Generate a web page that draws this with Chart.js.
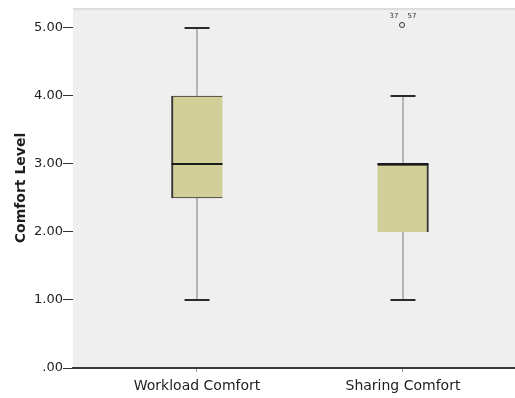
<!DOCTYPE html>
<html>
<head>
<meta charset="utf-8">
<script src="https://cdn.jsdelivr.net/npm/chart.js@4/dist/chart.umd.min.js"></script>
<style>
    html, body { margin: 0; padding: 0; background: #fff; }
    #wrap { width: 515px; height: 398px; position: relative; }
</style>
</head>
<body>
<div id="wrap"><canvas id="boxChart"></canvas></div>
<script>
    // box plot summaries per variable
    const categories = ['Workload Comfort', 'Sharing Comfort'];
    const categoryPos = [1, 2];
    const minVals = [1, 1];
    const q1Vals = [2.5, 2];
    const medianVals = [3, 3];
    const q3Vals = [4, 3];
    const maxVals = [5, 4];
    const outlierVals = [[], [5]];
    const outlierLabels = [[], ['37', '57']];
    const yTicks = [0, 1, 2, 3, 4, 5];

    const fontFamily = '"DejaVu Sans", Verdana, sans-serif';

    const plotBackground = {
        id: 'plotBackground',
        beforeDraw(chart) {
            const { ctx, chartArea: a } = chart;
            ctx.save();
            ctx.fillStyle = '#efefef';
            ctx.fillRect(a.left, a.top, a.right - a.left, a.bottom - a.top);
            ctx.fillStyle = '#dddddd';
            ctx.fillRect(a.left, a.top, a.right - a.left, 2);
            ctx.restore();
        }
    };

    // whiskers behind the boxes, caps/medians/outliers on top
    const boxParts = {
        id: 'boxParts',
        beforeDatasetsDraw(chart) {
            const { ctx, scales: { x, y } } = chart;
            ctx.save();
            ctx.strokeStyle = '#b4b4b4';
            ctx.lineWidth = 2;
            categoryPos.forEach((c, i) => {
                const px = Math.round(x.getPixelForValue(c));
                ctx.beginPath();
                ctx.moveTo(px, y.getPixelForValue(minVals[i]));
                ctx.lineTo(px, y.getPixelForValue(maxVals[i]));
                ctx.stroke();
            });
            ctx.restore();
        },
        afterDatasetsDraw(chart) {
            const { ctx, scales: { x, y } } = chart;
            ctx.save();
            categoryPos.forEach((c, i) => {
                const px = Math.round(x.getPixelForValue(c));
                ctx.strokeStyle = '#2a2a2a';
                ctx.lineWidth = 2;
                [minVals[i], maxVals[i]].forEach(v => {
                    const py = Math.round(y.getPixelForValue(v));
                    ctx.beginPath();
                    ctx.moveTo(px - 12.5, py);
                    ctx.lineTo(px + 12.5, py);
                    ctx.stroke();
                });
                const my = Math.round(y.getPixelForValue(medianVals[i]));
                ctx.strokeStyle = '#1a1a1a';
                ctx.beginPath();
                ctx.moveTo(px - 25.5, my);
                ctx.lineTo(px + 25.5, my);
                ctx.stroke();

                outlierVals[i].forEach(v => {
                    const oy = y.getPixelForValue(v) - 3;
                    ctx.lineWidth = 1;
                    ctx.strokeStyle = '#333';
                    ctx.beginPath();
                    ctx.arc(px - 1, oy, 2.5, 0, Math.PI * 2);
                    ctx.stroke();
                    ctx.fillStyle = '#333';
                    ctx.font = '7px ' + fontFamily;
                    ctx.textAlign = 'center';
                    ctx.textBaseline = 'middle';
                    outlierLabels[i].forEach((lbl, k) => {
                        const dx = k === 0 ? -9 : 9;
                        ctx.fillText(lbl, px + dx, oy - 9);
                    });
                });
            });
            ctx.restore();
        }
    };

    const ctx = document.getElementById('boxChart').getContext('2d');
    const boxChart = new Chart(ctx, {
        type: 'bar',
        data: {
            datasets: [{
                label: 'IQR',
                data: categoryPos.map((c, i) => ({ x: c, y: [q1Vals[i], q3Vals[i]] })),
                backgroundColor: '#d3cf98',
                borderColor: '#333333',
                borderWidth: [
                    { left: 2, top: 1, bottom: 1, right: 0 },
                    { left: 0, top: 2, bottom: 0, right: 2 }
                ],
                borderSkipped: false,
                barThickness: 51
            }]
        },
        options: {
            responsive: true,
            maintainAspectRatio: false,
            animation: false,
            layout: { padding: { top: 8, right: 0, left: 0, bottom: 0 } },
            plugins: {
                legend: { display: false },
                tooltip: { enabled: false }
            },
            scales: {
                x: {
                    type: 'linear',
                    min: 0.398,
                    max: 2.544,
                    offset: false,
                    afterBuildTicks: axis => { axis.ticks = categoryPos.map(v => ({ value: v })); },
                    afterFit: axis => { axis.height = 30; },
                    grid: { offset: false, drawOnChartArea: false, drawTicks: true, tickLength: 4, color: '#999' },
                    border: { display: true, color: '#3a3a3a', width: 2 },
                    ticks: {
                        padding: 6,
                        color: '#1e1e1e',
                        font: { family: fontFamily, size: 14 },
                        callback: v => categories[categoryPos.indexOf(v)] || ''
                    }
                },
                y: {
                    min: 0,
                    max: 5.294,
                    afterBuildTicks: axis => { axis.ticks = yTicks.map(v => ({ value: v })); },
                    afterFit: axis => { axis.width = 73; },
                    grid: { drawOnChartArea: false, drawTicks: true, tickLength: 10, color: '#333' },
                    border: { display: false },
                    ticks: {
                        padding: 0,
                        color: '#1e1e1e',
                        font: { family: fontFamily, size: 13 },
                        callback: v => v === 0 ? '.00' : v.toFixed(2)
                    },
                    title: {
                        display: true,
                        text: 'Comfort Level',
                        color: '#1e1e1e',
                        font: { family: fontFamily, size: 14, weight: 'bold' },
                        padding: { top: 13, bottom: 0 }
                    }
                }
            }
        },
        plugins: [plotBackground, boxParts]
    });
</script>
</body>
</html>
